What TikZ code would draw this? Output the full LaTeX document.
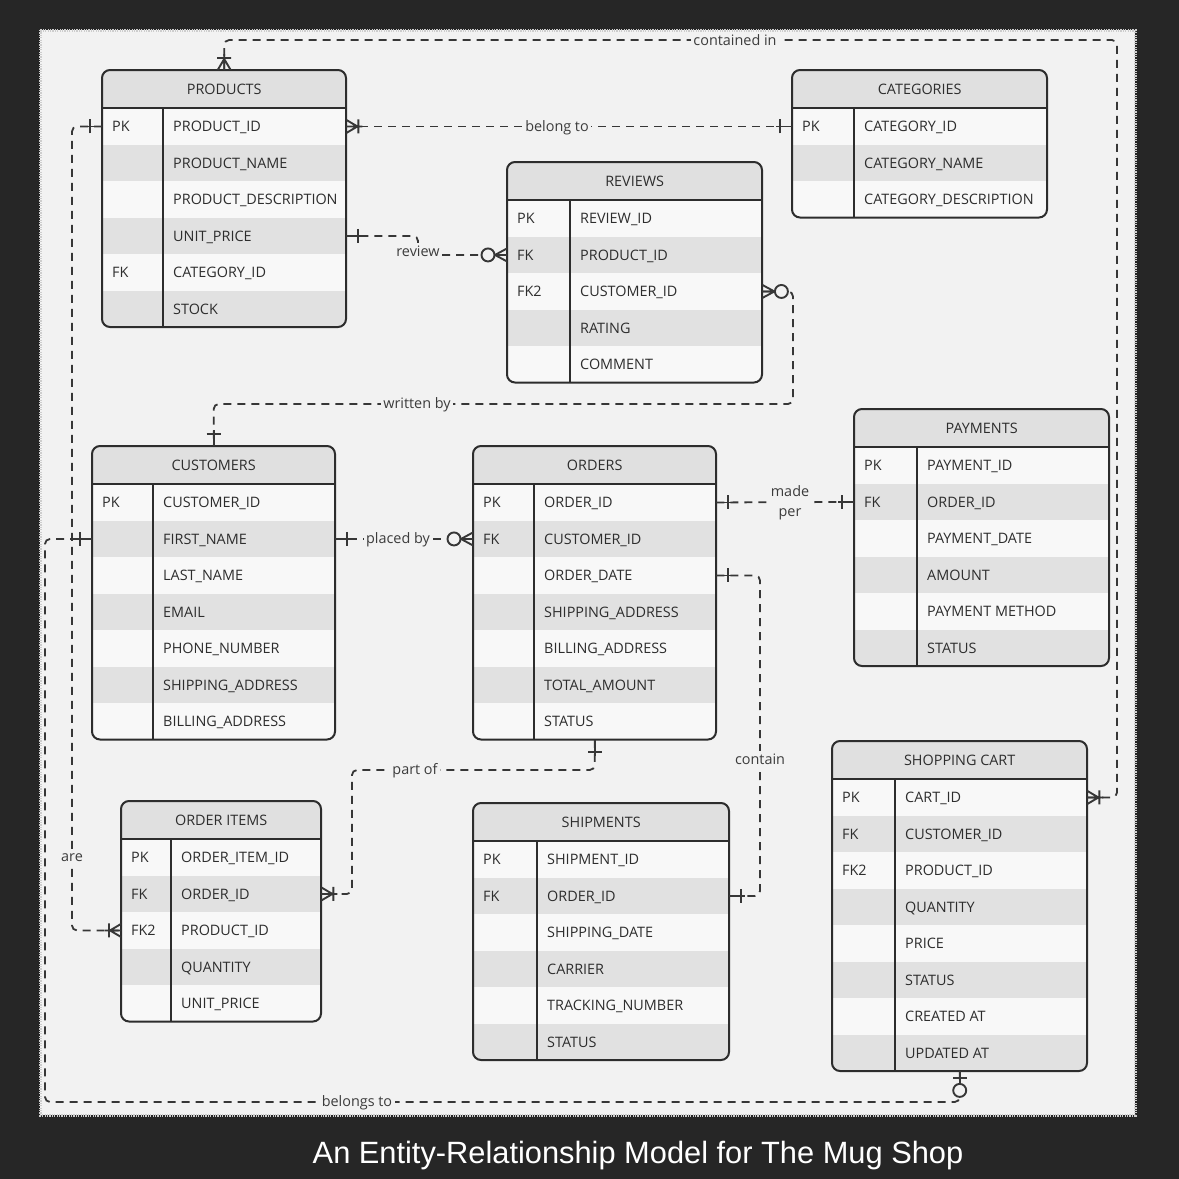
\documentclass[tikz,border=0pt]{standalone}
\usepackage{fontspec}
\newfontfamily\osans{Open Sans}
\newfontfamily\capsans{Liberation Sans}
\definecolor{darkbg}{RGB}{38,38,38}
\definecolor{canvas}{RGB}{242,242,242}
\definecolor{hdrc}{RGB}{224,224,224}
\definecolor{rowlight}{RGB}{248,248,248}
\definecolor{rowdark}{RGB}{225,225,225}
\definecolor{linec}{RGB}{45,45,45}
\definecolor{txtc}{RGB}{45,45,45}
\definecolor{relc}{RGB}{55,55,55}
\definecolor{lblc}{RGB}{60,60,60}
\definecolor{borderc}{RGB}{205,205,205}
\tikzset{
  hdrbox/.style={fill=hdrc, minimum height=38pt, inner sep=0, text=txtc, font=\osans\fontsize{14.4}{16}\selectfont},
  rowbox/.style={minimum height=36.5pt, inner sep=0, draw=none},
  txt/.style={text=txtc, font=\osans\fontsize{14.4}{16}\selectfont, inner sep=0},
  tline/.style={draw=linec, line width=2pt},
  rel/.style={draw=relc, line width=1.8pt, dash pattern=on 8pt off 6pt, rounded corners=5pt},
  mkline/.style={draw=relc, line width=1.9pt, solid},
  lbl/.style={fill=canvas, text=lblc, font=\osans\fontsize{14.4}{20}\selectfont, inner sep=2.5pt},
  mk one/.pic={\draw[mkline] (0,0) -- (16,0) (12,-7) -- (12,7);},
  mk onemany/.pic={\draw[mkline] (0,0) -- (16,0) (0,-6.5) -- (11,0) -- (0,6.5) (12,-7) -- (12,7);},
  mk zeromany/.pic={\draw[mkline] (0,0) -- (12,0) (0,-6.5) -- (12,0) -- (0,6.5); \draw[mkline, fill=canvas] (19,0) circle (6.5);},
  mk zeroone/.pic={\draw[mkline] (0,0) -- (12,0) (7,-7) -- (7,7); \draw[mkline, fill=canvas] (19,0) circle (6.5);},
}
% #1 name, #2 left, #3 top, #4 width, #5 key col width, #6 title, #7 nrows, #8 rows
\newcommand{\ertable}[8]{%
  \pgfmathsetmacro{\tbot}{#3+38+#7*36.5}
  \begin{scope}
    \clip[rounded corners=8pt] (#2,#3) rectangle (#2+#4,\tbot);
    \node[hdrbox, minimum width=#4, anchor=north west] (#1) at (#2,#3) {#6};
    \foreach [count=\i] \k/\f in {#8} {
      \pgfmathsetmacro{\ry}{#3+38+(\i-1)*36.5}
      \pgfmathtruncatemacro{\odd}{mod(\i,2)}
      \ifnum\odd=1 \def\rc{rowlight}\else\def\rc{rowdark}\fi
      \node[rowbox, fill=\rc, minimum width=#4, anchor=north west] (#1-\i) at (#2,\ry) {};
      \node[txt, anchor=base west] at ([xshift=10pt, yshift=-5.5pt]#1-\i.west) {\k};
      \node[txt, anchor=base west] at ([xshift=#5+10, yshift=-5.5pt]#1-\i.west) {\f};
    }
  \end{scope}
  \draw[tline, rounded corners=8pt] (#2,#3) rectangle (#2+#4,\tbot);
  \draw[tline] (#2,#3+38) -- (#2+#4,#3+38);
  \draw[tline] (#2+#5,#3+38) -- (#2+#5,\tbot);
}
\begin{document}
\begin{tikzpicture}[x=1pt, y=-1pt]
\useasboundingbox (0,0) rectangle (1179,1179);
\fill[darkbg] (0,0) rectangle (1179,1179);
\fill[canvas] (40,30) rectangle (1135,1115);
\draw[borderc, line width=3pt, dash pattern=on 1.2pt off 1.2pt] (40,30) rectangle (1135,1115);

% tables
\ertable{prod}{102}{70}{244}{61}{PRODUCTS}{6}{PK/PRODUCT\_ID, /PRODUCT\_NAME, /PRODUCT\_DESCRIPTION, /UNIT\_PRICE, FK/CATEGORY\_ID, /STOCK}
\ertable{cat}{792}{70}{255}{62}{CATEGORIES}{3}{PK/CATEGORY\_ID, /CATEGORY\_NAME, /CATEGORY\_DESCRIPTION}
\ertable{rev}{507}{162}{255}{63}{REVIEWS}{5}{PK/REVIEW\_ID, FK/PRODUCT\_ID, FK2/CUSTOMER\_ID, /RATING, /COMMENT}
\ertable{cust}{92}{446}{243}{61}{CUSTOMERS}{7}{PK/CUSTOMER\_ID, /FIRST\_NAME, /LAST\_NAME, /EMAIL, /PHONE\_NUMBER, /SHIPPING\_ADDRESS, /BILLING\_ADDRESS}
\ertable{ord}{473}{446}{243}{61}{ORDERS}{7}{PK/ORDER\_ID, FK/CUSTOMER\_ID, /ORDER\_DATE, /SHIPPING\_ADDRESS, /BILLING\_ADDRESS, /TOTAL\_AMOUNT, /STATUS}
\ertable{pay}{854}{409}{255}{63}{PAYMENTS}{6}{PK/PAYMENT\_ID, FK/ORDER\_ID, /PAYMENT\_DATE, /AMOUNT, /PAYMENT METHOD, /STATUS}
\ertable{oi}{121}{801}{200}{50}{ORDER ITEMS}{5}{PK/ORDER\_ITEM\_ID, FK/ORDER\_ID, FK2/PRODUCT\_ID, /QUANTITY, /UNIT\_PRICE}
\ertable{ship}{473}{803}{256}{64}{SHIPMENTS}{6}{PK/SHIPMENT\_ID, FK/ORDER\_ID, /SHIPPING\_DATE, /CARRIER, /TRACKING\_NUMBER, /STATUS}
\ertable{cart}{832}{741}{255}{63}{SHOPPING CART}{8}{PK/CART\_ID, FK/CUSTOMER\_ID, FK2/PRODUCT\_ID, /QUANTITY, /PRICE, /STATUS, /CREATED AT, /UPDATED AT}

% connectors
\draw[rel] (prod.north) |- (1117,40) |- (cart-1.east);
\draw[rel] (prod-1.east) -- (cat-1.west);
\draw[rel] (prod-4.east) -| (418,245) |- (rev-2.west);
\draw[rel] (rev-3.east) -| (793,404) -| (cust.north);
\draw[rel] (cust-2.east) -- (ord-2.west);
\draw[rel] (ord-1.east) -- (pay-2.west);
\draw[rel] (ord-3.east) -| (760,800) |- (ship-2.east);
\draw[rel] (ord-7.south) |- (352,770) |- (oi-2.east);
\draw[rel] (prod-1.west) -| (72,600) |- (oi-3.west);
\draw[rel] (cust-2.west) -| (45,1102) -| (cart-8.south);

% cardinality markers
\pic[rotate=90] at (prod.north) {mk onemany};
\pic at (cart-1.east) {mk onemany};
\pic at (prod-1.east) {mk onemany};
\pic[rotate=180] at (cat-1.west) {mk one};
\pic at (prod-4.east) {mk one};
\pic[rotate=180] at (rev-2.west) {mk zeromany};
\pic at (rev-3.east) {mk zeromany};
\pic[rotate=90] at (cust.north) {mk one};
\pic at (cust-2.east) {mk one};
\pic[rotate=180] at (ord-2.west) {mk zeromany};
\pic at (ord-1.east) {mk one};
\pic[rotate=180] at (pay-2.west) {mk one};
\pic at (ord-3.east) {mk one};
\pic at (ship-2.east) {mk one};
\pic[rotate=-90] at (ord-7.south) {mk one};
\pic at (oi-2.east) {mk onemany};
\pic[rotate=180] at (prod-1.west) {mk one};
\pic[rotate=180] at (oi-3.west) {mk onemany};
\pic[rotate=180] at (cust-2.west) {mk one};
\pic[rotate=-90] at (cart-8.south) {mk zeroone};

% labels
\node[lbl] (l1) at (735,40) {contained in};
\node[lbl] (l2) at (557,128) {belong to};
\node[lbl] (l3) at (418,251) {review};
\node[lbl] (l4) at (417,405) {written by};
\node[lbl] (l5) at (398,540) {placed by};
\node[lbl, align=center] (l6) at (790,503) {made\\per};
\node[lbl] (l7) at (760,759) {contain};
\node[lbl] (l8) at (415,771) {part of};
\node[lbl] (l9) at (72,858) {are};
\node[lbl] (l10) at (357,1103) {belongs to};

% caption
\node[text=white, font=\capsans\fontsize{30.8}{36}\selectfont] (cap) at (638,1156) {An Entity-Relationship Model for The Mug Shop};
\end{tikzpicture}
\end{document}
